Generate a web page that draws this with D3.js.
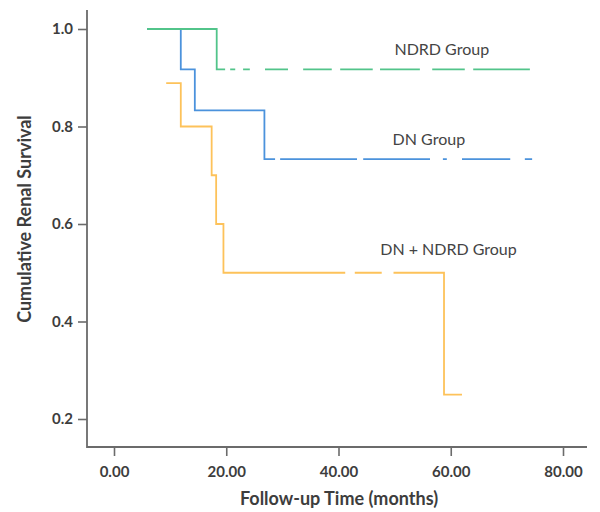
<!DOCTYPE html>
<html>
<head>
<meta charset="utf-8">
<script src="https://cdn.jsdelivr.net/npm/d3@7"></script>
<style>
  html, body { margin: 0; padding: 0; background: #fff; }
  svg { display: block; font-family: Lato, "Open Sans", sans-serif; }
</style>
</head>
<body>
<svg id="chart" width="600" height="512"></svg>
<script>
// ---- data ----
const groupNames = ["NDRD Group", "DN Group", "DN + NDRD Group"];
// step points (time in months, cumulative survival)
const ndrdTimes = [5.9, 18.3, 74.1];
const ndrdSurv  = [1.0, 0.917, 0.917];
const dnTimes   = [5.9, 11.9, 14.4, 26.8, 74.5];
const dnSurv    = [1.0, 0.917, 0.833, 0.733, 0.733];
const mixTimes  = [9.3, 11.9, 17.4, 18.2, 19.5, 58.8, 62.0];
const mixSurv   = [0.889, 0.8, 0.7, 0.6, 0.5, 0.25, 0.25];
// gaps in the drawn curves (months) as seen in the picture
const ndrdGaps = [[19.8,20.7],[21.6,23.0],[24.2,26.9],[31.0,33.7],[38.8,40.3],[46.1,47.4],[54.5,56.7],[62.5,64.0]];
const dnGaps   = [[28.7,29.6],[43.3,44.4],[56.3,58.6],[59.3,62.0],[70.6,73.2]];
const mixGaps  = [[41.2,42.9],[47.7,49.8]];
// axes
const xTicks = [0, 20, 40, 60, 80];
const yTicks = [0.2, 0.4, 0.6, 0.8, 1.0];
const xTitle = "Follow-up Time (months)";
const yTitle = "Cumulative Renal Survival";

// ---- drawing ----
const svg = d3.select("#chart");
const x = d3.scaleLinear().domain([0, 80]).range([114, 563]);
const y = d3.scaleLinear().domain([0.2, 1.0]).range([419, 29]);
const axisColor = "#6b6b6b";
const textColor = "#3d3d3d";
const axisY0 = 447, axisX0 = 87;

const series = [
  { name: groupNames[0], t: ndrdTimes, s: ndrdSurv, gaps: ndrdGaps, color: "#52c48a", lx: 58.4, ly: 0.947 },
  { name: groupNames[1], t: dnTimes,   s: dnSurv,   gaps: dnGaps,   color: "#4b92dc", lx: 56.1, ly: 0.762 },
  { name: groupNames[2], t: mixTimes,  s: mixSurv,  gaps: mixGaps,  color: "#fdc25a", lx: 59.6, ly: 0.536 }
];

const defs = svg.append("defs");
const line = d3.line().x(d => x(d[0])).y(d => y(d[1])).curve(d3.curveStepAfter);

// draw in order: orange, blue, green (green on top)
[2, 1, 0].forEach(i => {
  const sr = series[i];
  const pts = sr.t.map((t, k) => [t, sr.s[k]]);
  // visible intervals = complement of gaps
  const t0 = sr.t[0] - 1, t1 = sr.t[sr.t.length - 1] + 1;
  const vis = [];
  let cur = t0;
  sr.gaps.forEach(g => { vis.push([cur, g[0]]); cur = g[1]; });
  vis.push([cur, t1]);
  const cid = "clip" + i;
  defs.append("clipPath").attr("id", cid)
    .selectAll("rect").data(vis).join("rect")
    .attr("x", d => x(d[0])).attr("width", d => x(d[1]) - x(d[0]))
    .attr("y", 0).attr("height", 512);
  svg.append("path")
    .attr("d", line(pts))
    .attr("fill", "none")
    .attr("stroke", sr.color)
    .attr("stroke-width", 1.8)
    .attr("clip-path", `url(#${cid})`);
  svg.append("text")
    .attr("x", x(sr.lx)).attr("y", y(sr.ly))
    .attr("text-anchor", "middle")
    .attr("font-size", 16)
    .attr("fill", "#444")
    .text(sr.name);
});

// axes
const gx = svg.append("g").attr("transform", `translate(0,${axisY0})`)
  .call(d3.axisBottom(x).tickValues(xTicks).tickFormat(d3.format(".2f")).tickSize(9).tickPadding(10));
gx.select(".domain").remove();
gx.selectAll(".tick line").attr("stroke", axisColor).attr("stroke-width", 1.6);
gx.selectAll(".tick text").attr("font-size", 15).attr("font-weight", "bold")
  .attr("fill", textColor).attr("font-family", "Lato, sans-serif");

const gy = svg.append("g").attr("transform", `translate(${axisX0},0)`)
  .call(d3.axisLeft(y).tickValues(yTicks).tickFormat(d3.format(".1f")).tickSize(9).tickPadding(5));
gy.select(".domain").remove();
gy.selectAll(".tick line").attr("stroke", axisColor).attr("stroke-width", 1.6);
gy.selectAll(".tick text").attr("font-size", 15).attr("font-weight", "bold")
  .attr("fill", textColor).attr("font-family", "Lato, sans-serif");

// axis lines
svg.append("path")
  .attr("d", `M${axisX0},10V${axisY0}H587`)
  .attr("fill", "none").attr("stroke", axisColor).attr("stroke-width", 1.8);

// titles
svg.append("text")
  .attr("x", 339).attr("y", 505)
  .attr("text-anchor", "middle")
  .attr("font-size", 18).attr("font-weight", "bold").attr("fill", textColor)
  .text(xTitle);
svg.append("text")
  .attr("transform", "translate(31,219) rotate(-90)")
  .attr("text-anchor", "middle")
  .attr("font-size", 18).attr("font-weight", "bold").attr("fill", textColor)
  .text(yTitle);
</script>
</body>
</html>
